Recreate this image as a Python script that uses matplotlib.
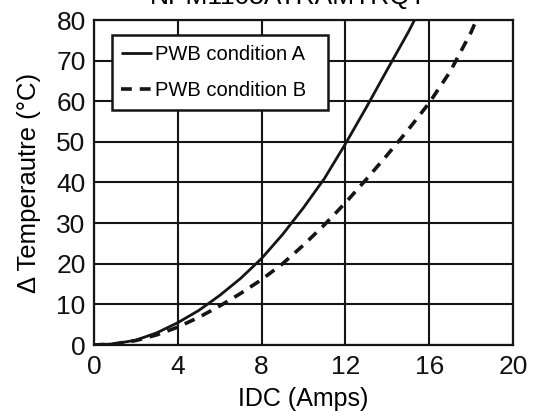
import matplotlib
matplotlib.use("Agg")
import matplotlib.pyplot as plt
from matplotlib.patches import Rectangle

plt.rcParams['font.family'] = ['Liberation Sans', 'DejaVu Sans']

# curve A (solid) and curve B (dashed)
idc_a = [0, 1, 2, 3, 4, 5, 6, 7, 8, 9, 10, 11, 12, 13, 14, 15, 15.3]
temp_a = [0, 0.3, 1.2, 3, 5.5, 8.5, 12.2, 16.4, 21.3, 27.2, 33.8, 41, 49.5, 58.5, 67.8, 77, 80]
idc_b = [0, 1, 2, 3, 4, 5, 6, 7, 8, 9, 10, 11, 12, 13, 14, 15, 16, 17, 18, 18.25]
temp_b = [0, 0.3, 1.1, 2.5, 4.4, 6.8, 9.6, 12.7, 16.1, 20, 24.6, 29.6, 35, 40.8, 46.8, 53, 59.6, 67.3, 77, 80]

x_ticks = [0, 4, 8, 12, 16, 20]
y_ticks = [0, 10, 20, 30, 40, 50, 60, 70, 80]
labels = ["PWB condition A", "PWB condition B"]
title = "NPM1105ATRAMTRQT"

W, H = 536, 411
fig = plt.figure(figsize=(W / 100, H / 100), dpi=100)
ax = fig.add_axes([94 / W, (H - 345) / H, 419 / W, 325 / H])

ink = "#151515"
ax.plot(idc_a, temp_a, color=ink, lw=2.0, label=labels[0], solid_capstyle='butt')
ax.plot(idc_b, temp_b, color=ink, lw=2.6, linestyle=(0, (3, 2.2)), label=labels[1])

ax.set_xlim(0, 20)
ax.set_ylim(0, 80)
ax.set_xticks(x_ticks)
ax.set_yticks(y_ticks)
ax.grid(True, color=ink, lw=1.5)
ax.set_axisbelow(True)
for s in ax.spines.values():
    s.set_linewidth(1.6)
    s.set_color(ink)
ax.tick_params(axis='both', length=0, labelsize=19, colors='#111111')
ax.tick_params(axis='x', pad=7)
ax.tick_params(axis='y', pad=6)

ax.set_xlabel("IDC (Amps)", fontsize=18, labelpad=6)
ax.set_ylabel("\u0394 Temperautre (\u00b0C)", fontsize=18.5, labelpad=11)

# legend box drawn separately so it can be as wide as in the source
def px(x, y):
    return (x - 94) / 419, (345 - y) / 325

x0, y0 = px(112, 110)
x1, y1 = px(328, 35)
ax.add_patch(Rectangle((x0, y0), x1 - x0, y1 - y0, transform=ax.transAxes,
                       facecolor='white', edgecolor=ink, lw=1.8, zorder=4))
leg = ax.legend(loc='upper left', bbox_to_anchor=px(121, 45),
                fontsize=14.5, frameon=False,
                handlelength=1.55, handletextpad=0.15, borderpad=0,
                labelspacing=0.85, borderaxespad=0)
leg.set_zorder(5)

# title sits mostly above the image edge, like in the source scan
fig.text(288 / W, (H - 4) / H, title, fontsize=19, ha='center', va='baseline')

fig.savefig("out.png", dpi=100)
